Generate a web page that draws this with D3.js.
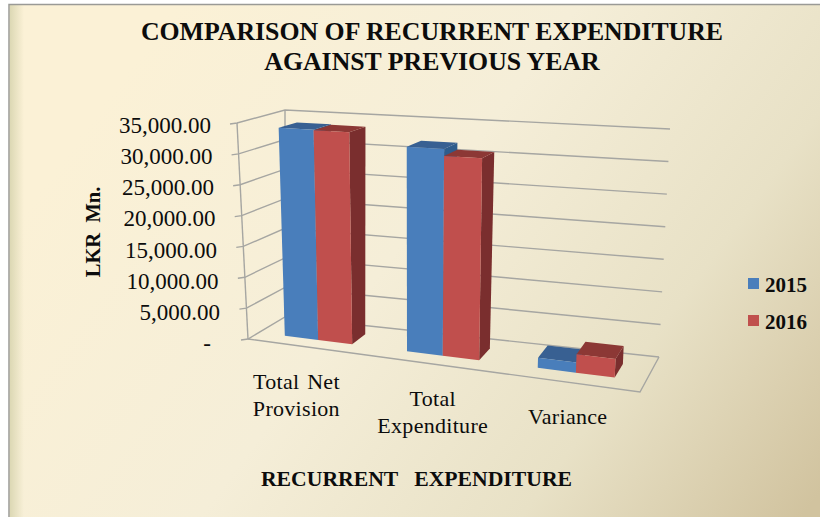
<!DOCTYPE html>
<html>
<head>
<meta charset="utf-8">
<script src="https://cdn.jsdelivr.net/npm/d3@7"></script>
<style>
  html, body { margin: 0; padding: 0; background: #fff; }
  svg { display: block; }
  text { font-family: "Liberation Serif", serif; fill: #0c0c0c; }
</style>
</head>
<body>
<div id="chart"></div>
<script>
const categories = [["Total Net", "Provision"], ["Total", "Expenditure"], ["Variance"]];
const seriesNames = ["2015", "2016"];
const values2015 = [33800, 31900, 1500];
const values2016 = [33700, 30800, 2700];
const tickValues = [0, 5000, 10000, 15000, 20000, 25000, 30000, 35000];
const titleLines = ["COMPARISON OF RECURRENT EXPENDITURE", "AGAINST PREVIOUS YEAR"];

const width = 820, height = 517;

// corners of the 3d box as they land on the page
const box = {
  floorFrontLeft: [248, 339], floorFrontRight: [640, 392],
  floorBackLeft: [285, 317], floorBackRight: [659, 357],
  topFrontLeft: [237, 123], topFrontRight: [652, 144],
  topBackLeft: [285, 110], topBackRight: [670, 129]
};

const mix = (a, b, t) => [a[0] + (b[0] - a[0]) * t, a[1] + (b[1] - a[1]) * t];

// u along the categories, w into the depth, v up the value axis (all 0..1)
function project(u, w, v) {
  const warped = u + 0.1 * u * (u - 1); // bars get wider towards the viewer
  const floor = mix(
    mix(box.floorFrontLeft, box.floorFrontRight, warped),
    mix(box.floorBackLeft, box.floorBackRight, warped), w);
  const top = mix(
    mix(box.topFrontLeft, box.topFrontRight, warped),
    mix(box.topBackLeft, box.topBackRight, warped), w);
  return mix(floor, top, v);
}

const y = d3.scaleLinear().domain([0, 35000]).range([0, 1]);
const x0 = d3.scaleBand().domain(d3.range(categories.length)).range([0, 1])
  .paddingInner(0.44).paddingOuter(0.22);
const x1 = d3.scaleBand().domain(seriesNames).range([0, x0.bandwidth()]);
const depth = d3.scaleLinear().domain([0, 1]).range([0.3, 0.7]);

// the tick labels do not sit exactly on the slanted axis
const labelY = d3.scaleLinear().domain([0, 35000]).range([351, 133]);
const labelRight = d3.scaleLinear().domain([0, 35000]).range([221.5, 211]);

const colors = d3.scaleOrdinal().domain(seriesNames).range(["#4a7ebb", "#c0504d"]);
const topColors = d3.scaleOrdinal().domain(seriesNames).range(["#376092", "#8c3836"]);
const sideColors = d3.scaleOrdinal().domain(seriesNames).range(["#2f5b8c", "#7a2e2d"]);

const svg = d3.select("#chart").append("svg").attr("width", width).attr("height", height);

const defs = svg.append("defs");
const bg = defs.append("linearGradient").attr("id", "bg")
  .attr("gradientUnits", "userSpaceOnUse")
  .attr("x1", 150).attr("y1", 40).attr("x2", 800).attr("y2", 520);
bg.append("stop").attr("offset", "0").attr("stop-color", "#fbf1d6");
bg.append("stop").attr("offset", "0.4").attr("stop-color", "#f5eed8");
bg.append("stop").attr("offset", "0.72").attr("stop-color", "#e8e1c6");
bg.append("stop").attr("offset", "1").attr("stop-color", "#d1c39f");
const edge = defs.append("linearGradient").attr("id", "edge");
edge.append("stop").attr("offset", "0").attr("stop-color", "#dcd8b4");
edge.append("stop").attr("offset", "1").attr("stop-color", "#dcd8b4").attr("stop-opacity", 0);
defs.append("filter").attr("id", "soft")
  .append("feGaussianBlur").attr("stdDeviation", 0.45);

// background panel
svg.append("rect").attr("x", 9).attr("y", 4).attr("width", width - 9).attr("height", height - 4)
  .attr("fill", "url(#bg)");
svg.append("rect").attr("x", 10).attr("y", 5).attr("width", 14).attr("height", height - 5)
  .attr("fill", "url(#edge)");
svg.append("path").attr("d", `M9,${height}V4.5H${width}`)
  .attr("fill", "none").attr("stroke", "#9a9a96").attr("stroke-width", 1.5);

const line = d3.line();

// grid on the side wall and the back wall
const grid = svg.append("g").attr("fill", "none").attr("stroke", "#a6a6a2")
  .attr("stroke-width", 1.4).attr("filter", "url(#soft)");
tickValues.forEach(t => {
  const v = y(t);
  grid.append("path").attr("d", line([
    [project(0, 0, v)[0] - 7, project(0, 0, v)[1] + 1],
    project(0, 0, v), project(0, 1, v), project(1, 1, v)
  ]));
});
grid.append("path").attr("d", line([project(0, 0, 1), project(0, 0, 0)]));
grid.append("path").attr("d", line([project(0, 1, 1), project(0, 1, 0)]));
grid.append("path").attr("d", line([
  project(0, 0, 0), project(1, 0, 0), project(1, 1, 0)
]));

// bars
const barData = categories.flatMap((c, i) => [
  { cat: i, series: seriesNames[0], value: values2015[i] },
  { cat: i, series: seriesNames[1], value: values2016[i] }
]);

const bars = svg.append("g").selectAll("g").data(barData).join("g").attr("filter", "url(#soft)");

const quad = pts => line(pts) + "Z";
const left = d => x0(d.cat) + x1(d.series);
const right = d => left(d) + x1.bandwidth();
const wF = depth(0), wB = depth(1);

bars.append("path")
  .attr("fill", d => sideColors(d.series))
  .attr("d", d => quad([
    project(right(d), wF, 0), project(right(d), wB, 0),
    project(right(d), wB, y(d.value)), project(right(d), wF, y(d.value))
  ]));
bars.append("path")
  .attr("fill", d => topColors(d.series))
  .attr("d", d => quad([
    project(left(d), wF, y(d.value)), project(right(d), wF, y(d.value)),
    project(right(d), wB, y(d.value)), project(left(d), wB, y(d.value))
  ]));
bars.append("path")
  .attr("fill", d => colors(d.series))
  .attr("d", d => quad([
    project(left(d), wF, 0), project(right(d), wF, 0),
    project(right(d), wF, y(d.value)), project(left(d), wF, y(d.value))
  ]));

// value labels on the axis
const tickFormat = t => t === 0 ? "-" : d3.format(",.2f")(t);
svg.append("g").selectAll("text").data(tickValues).join("text")
  .attr("x", t => t === 0 ? 211 : labelRight(t))
  .attr("y", t => labelY(t))
  .attr("text-anchor", "end")
  .attr("font-size", 23)
  .text(tickFormat);

// category labels
const labelNudge = [-10, 0, 0];
svg.append("g").selectAll("text").data(categories).join("text")
  .attr("text-anchor", "middle")
  .attr("font-size", 22)
  .attr("letter-spacing", 0.3)
  .attr("word-spacing", 2)
  .attr("transform", (c, i) => {
    const p = project(x0(i) + x0.bandwidth() / 2, 0, 0);
    return `translate(${p[0] - 1.5 + labelNudge[i]},${p[1] + 42})`;
  })
  .selectAll("tspan").data(c => c).join("tspan")
  .attr("x", 0)
  .attr("dy", (d, i) => i ? 27 : 0)
  .text(d => d);

// titles
svg.append("g").selectAll("text").data(titleLines).join("text")
  .attr("x", 432)
  .attr("y", (d, i) => 40 + i * 30)
  .attr("text-anchor", "middle")
  .attr("font-size", 25.8)
  .attr("font-weight", "bold")
  .text(d => d);

svg.append("text")
  .attr("transform", "translate(100,232) rotate(-90)")
  .attr("text-anchor", "middle")
  .attr("font-size", 20.5)
  .attr("font-weight", "bold")
  .attr("xml:space", "preserve")
  .text("LKR  Mn.");

svg.append("text")
  .attr("x", 416.5)
  .attr("y", 486)
  .attr("text-anchor", "middle")
  .attr("font-size", 21.7)
  .attr("font-weight", "bold")
  .attr("xml:space", "preserve")
  .text("RECURRENT   EXPENDITURE");

// legend
const legend = svg.append("g").selectAll("g").data(seriesNames).join("g")
  .attr("transform", (d, i) => `translate(748,${278 + i * 37})`);
legend.append("rect").attr("width", 11).attr("height", 11).attr("fill", d => colors(d));
legend.append("text").attr("x", 17).attr("y", 14)
  .attr("font-size", 21).attr("font-weight", "bold").text(d => d);
</script>
</body>
</html>
